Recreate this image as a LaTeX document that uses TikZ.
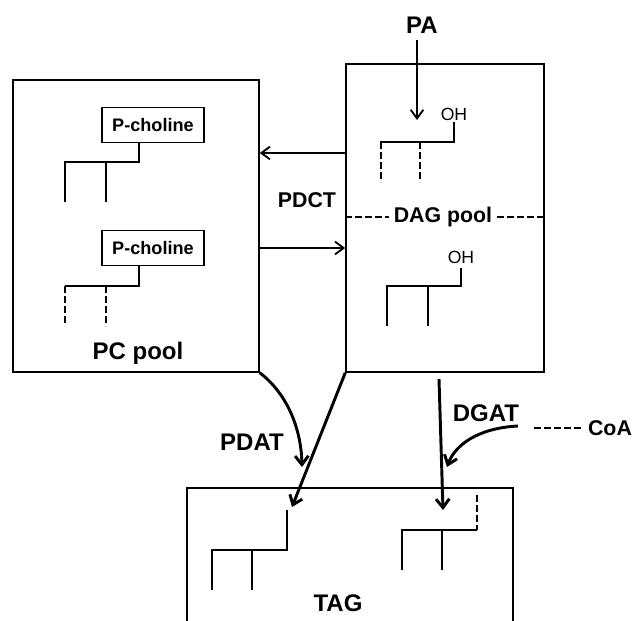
\documentclass[tikz,border=0pt]{standalone}
\usepackage{fontspec}
\setmainfont{Liberation Sans}
\usetikzlibrary{arrows.meta}
\begin{document}
\begin{tikzpicture}[x=0.75pt,y=-0.75pt,line join=miter,
	big/.style={font=\fontsize{18}{21}\selectfont\bfseries},
	mid/.style={font=\fontsize{16}{19}\selectfont\bfseries},
	oh/.style={font=\fontsize{13.2}{15}\selectfont,inner sep=1pt},
	poolbox/.style={draw,line width=1.1pt,inner sep=0pt},
	headbox/.style={draw,line width=0.9pt,inner sep=0pt,minimum width=76.5pt,minimum height=26pt,font=\fontsize{13.6}{16}\selectfont\bfseries},
	chain/.style={line width=1.2pt},
	dashchain/.style={line width=1.2pt,dash pattern=on 5pt off 2.5pt},
	dashline/.style={line width=1.1pt,dash pattern=on 5pt off 2.5pt},
	thinarrow/.style={line width=1.4pt,-{Straight Barb[length=6.5pt,width=9.5pt]}},
	thickarrow/.style={line width=2.2pt,-{Straight Barb[length=6.5pt,width=10pt]}}]
	\useasboundingbox (0,0) rectangle (633,621);
	% pools
	\node[poolbox,minimum width=184.5pt,minimum height=219pt] (pc) at (136,226) {};
	\node[poolbox,minimum width=148.5pt,minimum height=231pt] (dag) at (445,218) {};
	\coordinate (tagbl) at (187,621); \coordinate (tagtl) at (187,488);
	\coordinate (tagtr) at (513,488); \coordinate (tagbr) at (513,621);
	\draw[line width=1.1pt] (tagbl) -- (tagtl) -- (tagtr) -- (tagbr);
	% labels
	\node[big] (pclabel) at (138,353) {PC pool};
	\node[big] (taglabel) at (338,603) {TAG};
	\node[mid] (daglabel) at (443,217) {DAG pool};
	\node[mid] (pdct) at (307,200) {PDCT};
	\node[big] (pdat) at (252,442) {PDAT};
	\node[big] (dgat) at (486,413) {DGAT};
	\node[mid] (coa) at (610,428) {CoA};
	\node[big,inner sep=4.5pt] (pa) at (422,25) {PA};
	\node[oh] (oh1) at (454,114) {OH};
	\node[oh] (oh2) at (461,257) {OH};
	\node[headbox] (pch1) at (153,125) {P-choline};
	\node[headbox] (pch2) at (153,248) {P-choline};
	% dashed separators
	\draw[dashline] (dag.west |- daglabel) -- (daglabel.west);
	\draw[dashline] (daglabel.east) -- (dag.east |- daglabel);
	\coordinate (coadash) at (534,428);
	\draw[dashline] (coadash) -- (coa.west);
	% PC pool chains
	\draw[chain] (139,142) -- (139,162) -- (65,162) -- (65,202);
	\draw[chain] (106,162) -- (106,202);
	\draw[chain] (139,265) -- (139,286) -- (65,286);
	\draw[dashchain] (65,286) -- (65,326);
	\draw[dashchain] (106,286) -- (106,326);
	% DAG pool chains
	\draw[chain] (454,122) -- (454,142) -- (380,142);
	\draw[dashchain] (381,142) -- (381,182);
	\draw[dashchain] (420,142) -- (420,182);
	\draw[chain] (461,268) -- (461,286) -- (387,286) -- (387,326);
	\draw[chain] (428,286) -- (428,326);
	% TAG chains
	\draw[chain] (287,510) -- (287,550) -- (212,550) -- (212,590);
	\draw[chain] (252,550) -- (252,590);
	\draw[dashchain] (477,495) -- (477,530);
	\draw[chain] (477,530) -- (402,530) -- (402,570);
	\draw[chain] (442,530) -- (442,570);
	% PDCT exchange
	\coordinate (upper) at (0,153); \coordinate (lower) at (0,248);
	\draw[thinarrow] (dag.west |- upper) -- (pc.east |- upper);
	\draw[thinarrow] (pc.east |- lower) -- (dag.west |- lower);
	\coordinate (paend) at (417,120);
	\draw[thinarrow] (pa.south -| paend) -- (paend);
	% into TAG
	\coordinate (pdattip) at (302,467);
	\draw[thickarrow] (pc.south east) .. controls (285,392) and (301,425) .. (pdattip);
	\coordinate (dagtagtip) at (292,507);
	\draw[thickarrow] (dag.south west) -- (dagtagtip);
	\coordinate (dgatstart) at (439,379); \coordinate (dgattip) at (443,510);
	\draw[thickarrow] (dgatstart) -- (dgattip);
	\coordinate (coastart) at (518,426); \coordinate (coatip) at (447,467);
	\draw[thickarrow] (coastart) .. controls (478,428) and (455,445) .. (coatip);
\end{tikzpicture}
\end{document}
